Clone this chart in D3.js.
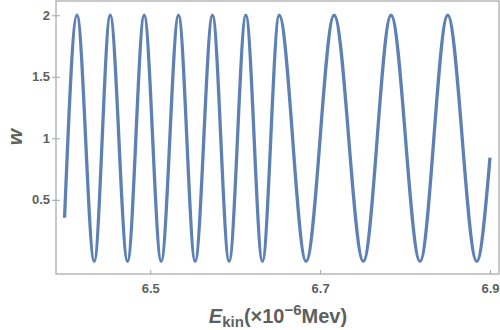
<!DOCTYPE html>
<html>
<head>
<meta charset="utf-8">
<script src="https://cdn.jsdelivr.net/npm/d3@7"></script>
<style>
  body { margin: 0; background: #fff; }
  svg { display: block; font-family: "Liberation Sans", Arial, sans-serif; }
</style>
</head>
<body>
<div id="chart"></div>
<script>
// values: start, peaks/troughs, end
const energy = [6.3992, 6.4138, 6.4341, 6.4529, 6.4733, 6.4929, 6.5129, 6.5333, 6.5529,
  6.5733, 6.5929, 6.6126, 6.6321, 6.6518, 6.6835, 6.7165, 6.7509, 6.7835, 6.8176,
  6.8502, 6.8844, 6.9000];
const wValues = [0.354, 2, 0, 2, 0, 2, 0, 2, 0, 2, 0, 2, 0, 2, 0, 2, 0, 2, 0, 2, 0, 0.843];
const xTicks = [6.5, 6.7, 6.9];
const yTicks = [0.5, 1, 1.5, 2];

const W = 500, H = 330;
const margin = { top: 1, right: 1, bottom: 56, left: 56 };
const width = W - margin.left - margin.right;
const height = H - margin.top - margin.bottom;

const svg = d3.select("#chart").append("svg")
  .attr("width", W).attr("height", H);
const g = svg.append("g")
  .attr("transform", `translate(${margin.left},${margin.top})`);

const x = d3.scaleLinear().domain([6.3891, 6.9106]).range([0, width]);
const y = d3.scaleLinear().domain([-0.103, 2.116]).range([height, 0]);

// frame
g.append("rect")
  .attr("x", 0).attr("y", 0)
  .attr("width", width).attr("height", height)
  .attr("fill", "none")
  .attr("stroke", "#a6a6a6")
  .attr("stroke-width", 1.2);

// x axis
const xAxis = g.append("g")
  .attr("transform", `translate(0,${height})`)
  .call(d3.axisBottom(x).tickValues(xTicks).tickSize(-4).tickPadding(10)
    .tickFormat(d3.format(".1f")));
// y axis
const yAxis = g.append("g")
  .call(d3.axisLeft(y).tickValues(yTicks).tickSize(-4).tickPadding(6)
    .tickFormat(d => d));

[xAxis, yAxis].forEach(a => {
  a.select(".domain").remove();
  a.selectAll("line").attr("stroke", "#a6a6a6");
  a.selectAll("text")
    .attr("fill", "#5f5f5f")
    .style("font-size", "13px")
    .style("font-weight", "bold")
    .style("font-family", "\"Liberation Sans\", Arial, sans-serif");
});
// small outer part of y ticks
yAxis.selectAll(".tick").append("line")
  .attr("x1", -4).attr("x2", 0)
  .attr("stroke", "#a6a6a6");

// curve
const line = d3.line()
  .x((d, i) => x(energy[i]))
  .y(d => y(d))
  .curve(d3.curveMonotoneX);

g.append("path")
  .datum(wValues)
  .attr("fill", "none")
  .attr("stroke", "#5E81B5")
  .attr("stroke-width", 3.3)
  .attr("stroke-linejoin", "round")
  .attr("d", line);

// axis labels
svg.append("text")
  .attr("transform", `translate(22,137) rotate(-90)`)
  .attr("text-anchor", "middle")
  .attr("fill", "#5f5f5f")
  .style("font-size", "21px")
  .style("font-weight", "bold")
  .style("font-style", "italic")
  .text("w");

const xl = svg.append("text")
  .attr("x", 278).attr("y", 323)
  .attr("text-anchor", "middle")
  .attr("fill", "#5f5f5f")
  .style("font-size", "20px")
  .style("font-weight", "bold");
xl.append("tspan").style("font-style", "italic").text("E");
xl.append("tspan").attr("dy", 4).style("font-size", "15px").text("kin");
xl.append("tspan").attr("dy", -4).text("(×10");
xl.append("tspan").attr("dy", -8).style("font-size", "15px").text("−6");
xl.append("tspan").attr("dy", 8).text("Mev)");
</script>
</body>
</html>
